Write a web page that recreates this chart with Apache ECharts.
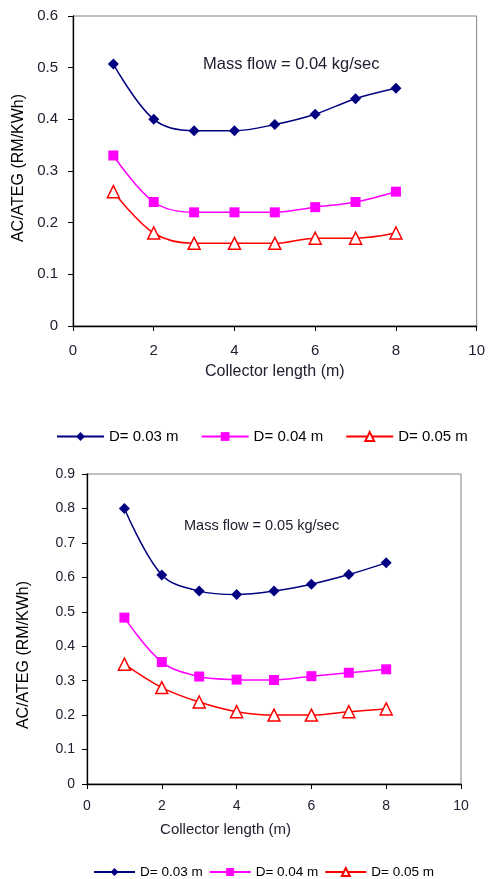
<!DOCTYPE html>
<html><head><meta charset="utf-8">
<script src="https://cdn.jsdelivr.net/npm/echarts@6/dist/echarts.min.js"></script>
<style>html,body{margin:0;padding:0;background:#fff}#c{width:488px;height:879px}</style>
</head><body><div id="c"></div>
<script>
const xLength = [1, 2, 3, 4, 5, 6, 7, 8];
const seriesNames = ['D= 0.03 m', 'D= 0.04 m', 'D= 0.05 m'];
// Mass flow = 0.04 kg/sec
const top_D003 = [0.507, 0.40, 0.378, 0.378, 0.39, 0.41, 0.44, 0.46];
const top_D004 = [0.33, 0.24, 0.22, 0.22, 0.22, 0.23, 0.24, 0.26];
const top_D005 = [0.26, 0.18, 0.16, 0.16, 0.16, 0.17, 0.17, 0.18];
// Mass flow = 0.05 kg/sec
const bot_D003 = [0.80, 0.607, 0.56, 0.55, 0.56, 0.58, 0.608, 0.642];
const bot_D004 = [0.483, 0.354, 0.312, 0.303, 0.302, 0.313, 0.323, 0.333];
const bot_D005 = [0.348, 0.28, 0.238, 0.21, 0.20, 0.20, 0.21, 0.218];
const xTicks = [0, 2, 4, 6, 8, 10];
const topNote = 'Mass flow = 0.04 kg/sec';
const botNote = 'Mass flow = 0.05 kg/sec';
const yName = 'AC/ATEG (RM/KWh)';
const xName = 'Collector length (m)';

const styles = [
  {color: '#000080', symbol: 'diamond', size: 11, fill: '#000080'},
  {color: '#FF00FF', symbol: 'rect', size: 10, fill: '#FF00FF'},
  {color: '#FF0000', symbol: 'triangle', size: 12, fill: '#ffffff'}
];
const pair = arr => arr.map((v, i) => [xLength[i], v]);
const FONT = 'Liberation Sans, Arial, sans-serif';
const TXT = '#202030';

function mkSeries(idx, data, gi) {
  const s = styles[idx];
  return {
    name: seriesNames[idx], type: 'line', xAxisIndex: gi, yAxisIndex: gi,
    data: pair(data), smooth: 0.35, symbol: s.symbol, symbolSize: s.size,
    lineStyle: {color: s.color, width: 1.5},
    itemStyle: {color: s.fill, borderColor: s.color, borderWidth: idx === 2 ? 1.5 : 0},
    z: 3 - idx
  };
}
function xAx(gi, fs, nfs, margin, gap, pad) {
  return {
    type: 'value', gridIndex: gi, min: 0, max: 10, interval: 2,
    name: xName, nameLocation: 'middle', nameGap: gap, nameMoveOverlap: false,
    nameTextStyle: {fontFamily: FONT, fontSize: nfs, color: TXT, padding: pad},
    axisLine: {lineStyle: {color: '#000', width: 1.3}},
    axisTick: {length: 5, lineStyle: {color: '#000'}},
    axisLabel: {fontFamily: FONT, fontSize: fs, color: TXT, margin: margin},
    splitLine: {show: false}
  };
}
function yAx(gi, max, fs, nfs, margin, gap, pad) {
  return {
    type: 'value', gridIndex: gi, min: 0, max: max, interval: 0.1,
    name: yName, nameLocation: 'middle', nameGap: gap, nameMoveOverlap: false,
    nameTextStyle: {fontFamily: FONT, fontSize: nfs, color: '#000', padding: pad},
    axisLine: {show: true, lineStyle: {color: '#000', width: 1.3}},
    axisTick: {show: true, length: 5, lineStyle: {color: '#000'}},
    axisLabel: {fontFamily: FONT, fontSize: fs, color: TXT, margin: margin,
      formatter: v => (Math.round(v * 10) / 10).toString()},
    splitLine: {show: false}
  };
}

const chart = echarts.init(document.getElementById('c'));
chart.setOption({
  animation: false,
  backgroundColor: '#fff',
  grid: [
    {left: 73, top: 16, width: 409, height: 310, show: true, borderColor: '#808080', borderWidth: 1},
    {left: 87, top: 474, width: 374, height: 310, show: true, borderColor: '#808080', borderWidth: 1}
  ],
  xAxis: [xAx(0, 15, 16, 17, 38, [0, 0, 0, 0]), xAx(1, 14, 15, 15, 38, [0, 97, 0, 0])],
  yAxis: [yAx(0, 0.6, 15, 16, 15, 46, [0, 0, 0, 6]), yAx(1, 0.9, 14, 16, 12, 55, [0, 52, 0, 0])],
  legend: [
    {data: seriesNames, left: 51, top: 424, itemWidth: 47, itemHeight: 11, itemGap: 22,
     textStyle: {fontFamily: FONT, fontSize: 15, color: '#000'}},
    {data: seriesNames, left: 88, top: 860, itemWidth: 41, itemHeight: 10, itemGap: 6,
     textStyle: {fontFamily: FONT, fontSize: 13.5, color: '#000'}}
  ],
  graphic: [
    {type: 'text', left: 203, top: 56, style: {text: topNote, font: '16.5px ' + FONT, fill: TXT}},
    {type: 'text', left: 184, top: 518, style: {text: botNote, font: '14.5px ' + FONT, fill: TXT}}
  ],
  series: [
    mkSeries(0, top_D003, 0), mkSeries(1, top_D004, 0), mkSeries(2, top_D005, 0),
    mkSeries(0, bot_D003, 1), mkSeries(1, bot_D004, 1), mkSeries(2, bot_D005, 1)
  ]
});
</script></body></html>
